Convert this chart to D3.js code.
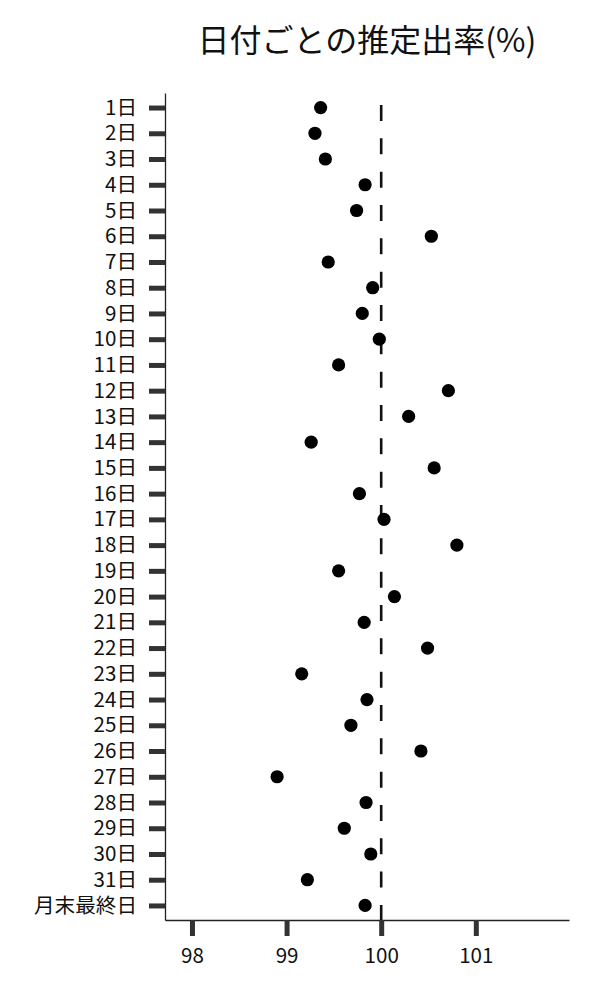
<html>
<head>
<meta charset="utf-8">
<script src="https://d3js.org/d3.v7.min.js"></script>
<style type="text/css">
  body {
    margin: 0;
    background-color: white;
  }
  text {
    font-family: "Noto Sans CJK JP", "Noto Sans", sans-serif;
  }
  .axis .domain {
    stroke: #222;
    stroke-width: 1.3;
  }
  .axis .tick line {
    stroke: #333;
    stroke-width: 5;
  }
  .axis .tick text {
    font-size: 20.6px;
    fill: #111;
  }
</style>
</head>
<body>
<div id="graph"></div>

<script>
  // day labels, top to bottom
  const days = ['1日', '2日', '3日', '4日', '5日', '6日', '7日', '8日', '9日', '10日',
    '11日', '12日', '13日', '14日', '15日', '16日', '17日', '18日', '19日', '20日',
    '21日', '22日', '23日', '24日', '25日', '26日', '27日', '28日', '29日', '30日',
    '31日', '月末最終日'];

  // estimated rate (%) for each day
  const rates = [99.36, 99.30, 99.41, 99.83, 99.74, 100.53, 99.44, 99.91, 99.80, 99.98,
    99.55, 100.71, 100.29, 99.26, 100.56, 99.77, 100.03, 100.80, 99.55, 100.14,
    99.82, 100.49, 99.16, 99.85, 99.68, 100.42, 98.90, 99.84, 99.61, 99.89,
    99.22, 99.83];

  const xTicks = [98, 99, 100, 101];
  const refValue = 100;
  const title = '日付ごとの推定出率(%)';

  // set the dimensions and margins of the graph
  var width = 600, height = 1000;
  var margin = {top: 93, right: 31, bottom: 80, left: 165};

  var svg = d3.select('#graph')
    .append('svg')
    .attr('width', width)
    .attr('height', height);

  var x = d3.scaleLinear()
    .domain([97.715, 101.985])
    .range([margin.left, width - margin.right]);

  var y = d3.scalePoint()
    .domain(days)
    .range([margin.top, height - margin.bottom])
    .padding(0.565);

  // title
  svg.append('text')
    .attr('x', (margin.left + width - margin.right) / 2)
    .attr('y', 52)
    .attr('text-anchor', 'middle')
    .style('font-size', '32px')
    .style('fill', '#111')
    .text(title);

  // X axis
  svg.append('g')
    .attr('class', 'axis')
    .attr('transform', 'translate(0,' + (height - margin.bottom) + ')')
    .call(d3.axisBottom(x).tickValues(xTicks).tickFormat(d3.format('d'))
      .tickSize(16).tickPadding(12.5).tickSizeOuter(0));

  // Y axis
  svg.append('g')
    .attr('class', 'axis')
    .attr('transform', 'translate(' + margin.left + ',0)')
    .call(d3.axisLeft(y).tickSize(16).tickPadding(12).tickSizeOuter(0));

  // reference line at 100
  svg.append('line')
    .attr('x1', x(refValue))
    .attr('x2', x(refValue))
    .attr('y1', margin.top)
    .attr('y2', height - margin.bottom)
    .style('stroke', '#111')
    .style('stroke-width', 2.6)
    .style('stroke-dasharray', '16,17.33')
    .style('stroke-dashoffset', 21.3);

  // dots
  svg.append('g')
    .selectAll('circle')
    .data(rates)
    .enter()
    .append('circle')
    .attr('cx', function (d) { return x(d); })
    .attr('cy', function (d, i) { return y(days[i]); })
    .attr('r', 6.6)
    .style('fill', 'black');
</script>
</body>
</html>
